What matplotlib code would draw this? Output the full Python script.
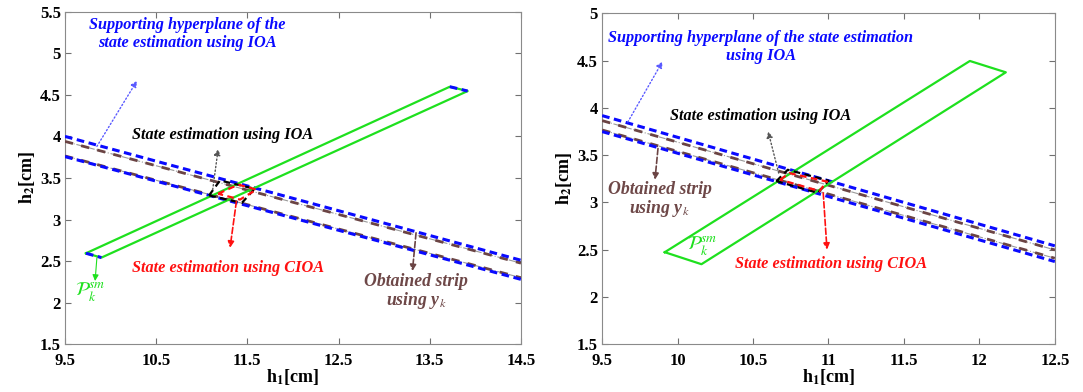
import numpy as np
import matplotlib.pyplot as plt

plt.rcParams['font.family'] = ['Liberation Serif', 'DejaVu Serif']
plt.rcParams['mathtext.fontset'] = 'stix'

# ---- left case: h1 range 9.5 .. 14.5 ----
l_xlim = [9.5, 14.5]
l_blue_up = [4.00, 2.51]
l_blue_lo = [3.757, 2.28]
l_brown_up = [3.94, 2.475]
l_brown_lo = [3.765, 2.30]
l_green_x = [9.73, 13.72, 13.916, 9.90]
l_green_y = [2.594, 4.598, 4.546, 2.542]
l_ioa_x = [11.08, 11.20, 11.58, 11.44]
l_ioa_y = [3.29, 3.47, 3.37, 3.20]
l_cioa_x = [11.18, 11.40, 11.60, 11.42]
l_cioa_y = [3.31, 3.42, 3.36, 3.24]
l_xticks = [9.5, 10.5, 11.5, 12.5, 13.5, 14.5]

# ---- right case: h1 range 9.5 .. 12.5 ----
r_xlim = [9.5, 12.5]
r_blue_up = [3.918, 2.540]
r_blue_lo = [3.749, 2.374]
r_brown_up = [3.865, 2.497]
r_brown_lo = [3.766, 2.409]
r_green_x = [9.915, 11.937, 12.175, 10.158]
r_green_y = [2.473, 4.496, 4.376, 2.346]
r_ioa_x = [10.655, 10.73, 11.00, 10.93]
r_ioa_y = [3.225, 3.345, 3.23, 3.10]
r_cioa_x = [10.68, 10.74, 10.99, 10.94]
r_cioa_y = [3.24, 3.31, 3.22, 3.12]
r_xticks = [9.5, 10, 10.5, 11, 11.5, 12, 12.5]

BLUE = '#0a0aff'
GREEN = '#1ee01e'
RED = '#ff1010'
BROWN = '#6b4444'
TXT_BROWN = '#6e4848'


def closed(xs, ys):
    return list(xs) + [xs[0]], list(ys) + [ys[0]]


def draw_panel(ax, xlim, b_up, b_lo, br_up, br_lo, gx, gy, ix, iy, cx, cy,
               blue_ends):
    # strip from the measurement y_k
    for yy in (br_up, br_lo):
        ax.plot(xlim, yy, color='#9a9a9a', lw=0.8, ls='-.', zorder=2)
        ax.plot(xlim, yy, color=BROWN, lw=2.0, dashes=(3, 3), zorder=3)
    # supporting hyperplanes (IOA)
    for yy in (b_up, b_lo):
        ax.plot(xlim, yy, color=BLUE, lw=2.2, dashes=(2.5, 1.5), zorder=4)
    # feasible parallelotope P_k^sm
    px, py = closed(gx, gy)
    ax.plot(px, py, color=GREEN, lw=1.6, zorder=5)
    if blue_ends:
        ax.plot([gx[0], gx[3]], [gy[0], gy[3]], color=BLUE,
                lw=2.2, dashes=(2.5, 1.5), zorder=6)
        ax.plot(gx[1:3], gy[1:3], color=BLUE, lw=2.2, dashes=(2.5, 1.5),
                zorder=6)
    # state estimation boxes
    bx, by = closed(ix, iy)
    ax.plot(bx, by, color='k', lw=1.6, dashes=(3, 2), zorder=6)
    rx, ry = closed(cx, cy)
    ax.plot(rx, ry, color=RED, lw=1.6, dashes=(3, 2), zorder=7)


def arrow(ax, start, end, color, ls, lw=1.0):
    ax.annotate('', xy=end, xytext=start,
                arrowprops=dict(arrowstyle='-|>', color=color, lw=lw, ls=ls,
                                mutation_scale=9, shrinkA=0, shrinkB=0),
                zorder=8)


def style(ax, xlim, xticks, ylim):
    yticks = np.arange(ylim[0], ylim[1] + 0.01, 0.5)
    ax.set_xlim(xlim)
    ax.set_ylim(ylim)
    ax.set_xticks(xticks)
    ax.set_yticks(yticks)
    ax.set_xticklabels([f'{t:g}' for t in xticks])
    ax.set_yticklabels([f'{t:g}' for t in yticks])
    ax.tick_params(direction='in', top=True, right=True, length=4,
                   labelsize=12, color='#707070')
    ax.tick_params(axis='x', pad=6)
    ax.tick_params(axis='y', pad=3)
    for lab in ax.get_xticklabels() + ax.get_yticklabels():
        lab.set_fontweight('bold')
    for s in ax.spines.values():
        s.set_color('#8a8a8a')
        s.set_linewidth(0.8)
    ax.set_xlabel('h$_\\mathbf{1}$[cm]', fontsize=13, fontweight='bold',
                  labelpad=-1)
    ax.set_ylabel('h$_\\mathbf{2}$[cm]', fontsize=13, fontweight='bold',
                  labelpad=2)


fig = plt.figure(figsize=(10.83, 3.92), dpi=100)
ax1 = fig.add_axes([0.060, 0.122, 0.421, 0.848])
ax2 = fig.add_axes([0.556, 0.122, 0.418, 0.844])

tkw = dict(fontsize=11.7, fontweight='bold', fontstyle='italic',
           ha='center', va='center', zorder=9)
bkw = dict(tkw, fontsize=12.8, color=TXT_BROWN, linespacing=1.0)
strip_txt = 'Obtained strip\nusing y$_{\\mathit{k}}$'

# left panel
draw_panel(ax1, l_xlim, l_blue_up, l_blue_lo, l_brown_up, l_brown_lo,
           l_green_x, l_green_y, l_ioa_x, l_ioa_y, l_cioa_x, l_cioa_y, True)
style(ax1, l_xlim, l_xticks, [1.5, 5.5])
arrow(ax1, (9.85, 3.88), (10.29, 4.67), '#5a5aff', ':')
ax1.text(10.84, 5.23, 'Supporting hyperplane of the\nstate estimation using IOA',
         color=BLUE, linespacing=1.15, **tkw)
arrow(ax1, (11.12, 3.36), (11.18, 3.85), '#555555', ':')
ax1.text(11.23, 4.02, 'State estimation using IOA', color='k', **tkw)
arrow(ax1, (11.38, 3.22), (11.31, 2.66), RED, '--', 1.2)
ax1.text(11.29, 2.42, 'State estimation using CIOA', color=RED, **tkw)
arrow(ax1, (13.35, 2.84), (13.31, 2.38), BROWN, '--', 1.2)
ax1.text(13.35, 2.13, strip_txt, **bkw)
arrow(ax1, (9.85, 2.54), (9.83, 2.26), GREEN, '-', 0.8)
ax1.text(9.78, 2.12, '$\\mathcal{P}_k^{sm}$', color=GREEN, fontsize=14,
         ha='center', va='center', zorder=9)

# right panel
draw_panel(ax2, r_xlim, r_blue_up, r_blue_lo, r_brown_up, r_brown_lo,
           r_green_x, r_green_y, r_ioa_x, r_ioa_y, r_cioa_x, r_cioa_y, False)
style(ax2, r_xlim, r_xticks, [1.5, 5.0])
arrow(ax2, (9.67, 3.85), (9.90, 4.49), '#5a5aff', ':')
ax2.text(10.55, 4.64,
         'Supporting hyperplane of the state estimation\nusing IOA',
         color=BLUE, linespacing=1.15, **tkw)
arrow(ax2, (10.67, 3.31), (10.60, 3.75), '#555555', ':')
ax2.text(10.55, 3.91, 'State estimation using IOA', color='k', **tkw)
arrow(ax2, (10.965, 3.10), (10.99, 2.50), RED, '--', 1.2)
ax2.text(11.02, 2.35, 'State estimation using CIOA', color=RED, **tkw)
arrow(ax2, (9.87, 3.57), (9.85, 3.24), BROWN, '--', 1.2)
ax2.text(9.88, 3.02, strip_txt, **bkw)
ax2.text(10.16, 2.53, '$\\mathcal{P}_k^{sm}$', color=GREEN, fontsize=14,
         ha='center', va='center', zorder=9)

fig.savefig('out.png', dpi=100)
